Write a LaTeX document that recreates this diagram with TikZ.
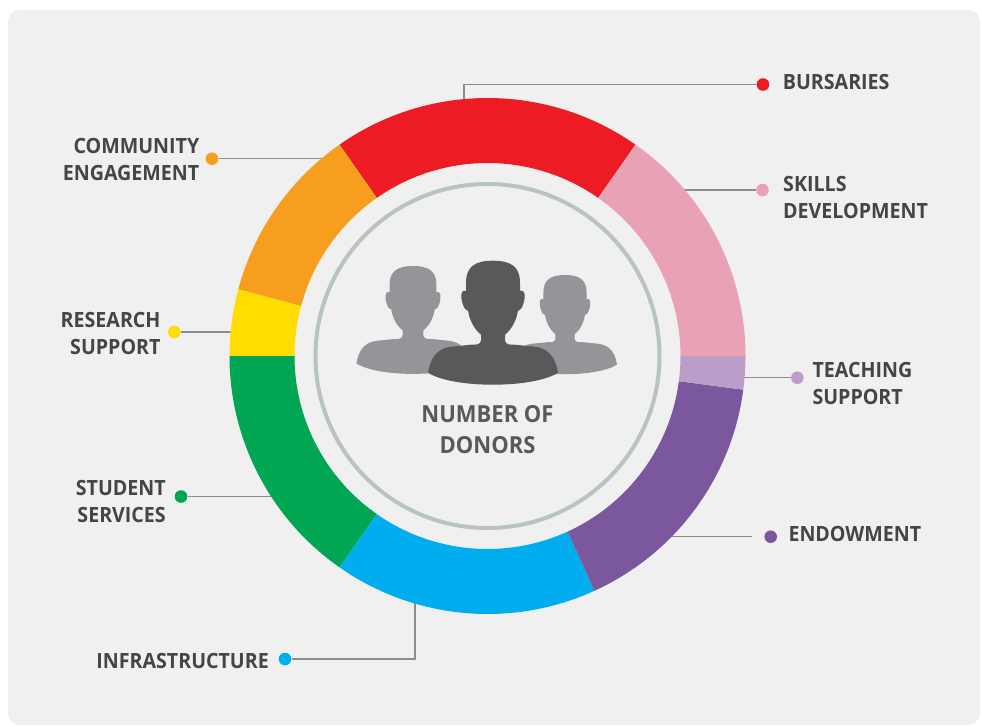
\documentclass[tikz,border=0pt]{standalone}
\usepackage{fontspec}
\setmainfont{Open Sans}[FakeStretch=0.935]
\definecolor{bg}{HTML}{F0F0F0}
\definecolor{cred}{HTML}{ED1C24}
\definecolor{cpink}{HTML}{E9A1B6}
\definecolor{clilac}{HTML}{BC9CC9}
\definecolor{cpurple}{HTML}{7B589E}
\definecolor{cblue}{HTML}{00AEEF}
\definecolor{cgreen}{HTML}{00A651}
\definecolor{cyellow}{HTML}{FFDD00}
\definecolor{corange}{HTML}{F89E1E}
\definecolor{ringg}{HTML}{B9C3C5}
\definecolor{lineg}{HTML}{8C8C8E}
\definecolor{txt}{HTML}{454547}
\definecolor{txtc}{HTML}{58595B}
\definecolor{plight}{HTML}{939598}
\definecolor{pdark}{HTML}{58595B}
\newcommand\ringseg[3]{\fill[#3] (#1:258) arc[start angle=#1,end angle=#2,radius=258] -- (#2:193) arc[start angle=#2,end angle=#1,radius=193] -- cycle;}
\newcommand\personshape{(0,0) .. controls (18,0) and (27,6) .. (27,22) -- (27,30)
 .. controls (32,28) and (33,36) .. (30,44) .. controls (29,48) and (26,50) .. (25,50)
 .. controls (23,62) and (17,70) .. (12,74) -- (12,80)
 .. controls (13,84) and (16,84) .. (22,84) -- (42,86)
 .. controls (58,88) and (63,100) .. (65,112)
 .. controls (40,128) and (-40,128) .. (-65,112)
 .. controls (-63,100) and (-58,88) .. (-42,86) -- (-22,84)
 .. controls (-16,84) and (-13,84) .. (-12,80) -- (-12,74)
 .. controls (-17,70) and (-23,62) .. (-25,50)
 .. controls (-26,50) and (-29,48) .. (-30,44)
 .. controls (-33,36) and (-32,28) .. (-27,30) -- (-27,22)
 .. controls (-27,6) and (-18,0) .. (0,0) -- cycle}
\begin{document}
\begin{tikzpicture}[x=1pt,y=-1pt,
  lbl/.style={font=\fontsize{21}{27}\selectfont\bfseries, text=txt, inner sep=0pt},
  dot/.style={circle, fill=#1, minimum size=12.6pt, inner sep=0pt},
  conn/.style={draw=lineg, line width=1.4pt},
]
\useasboundingbox (0,0) rectangle (982,726);
\fill[white] (0,0) rectangle (982,726);
\fill[bg, rounded corners=12pt] (8,10) rectangle (980,725);

% connectors and dots
\coordinate (rB) at (464,99); \coordinate (kB) at (464,84.5);
\node[dot=cred] (dB) at (763,84.5) {};
\draw[conn] (rB) -- (kB) -- (dB);
\coordinate (rS) at (684,190);
\node[dot=cpink] (dS) at (762.5,190) {};
\draw[conn] (rS) -- (dS);
\coordinate (rT) at (744,377.7);
\node[dot=clilac] (dT) at (797.3,377.7) {};
\draw[conn] (rT) -- (dT);
\coordinate (rE) at (670,536.7);
\node[dot=cpurple] (dE) at (770.7,536.7) {};
\draw[conn, shorten >=12pt] (rE) -- (dE);
\coordinate (rI) at (415,603); \coordinate (kI) at (415,659);
\node[dot=cblue] (dI) at (285,659) {};
\draw[conn] (rI) -- (kI) -- (dI);
\coordinate (rSt) at (271.5,496.5);
\node[dot=cgreen] (dSt) at (181,496.5) {};
\draw[conn] (rSt) -- (dSt);
\coordinate (rR) at (231.5,332);
\node[dot=cyellow] (dR) at (174.3,332) {};
\draw[conn] (rR) -- (dR);
\coordinate (rC) at (323,158.7);
\node[dot=corange] (dC) at (212,158.7) {};
\draw[conn] (rC) -- (dC);

% ring
\begin{scope}[shift={(487.5,356)}]
\ringseg{-55}{-125}{cred}
\ringseg{-125}{-165}{corange}
\ringseg{-165}{-180}{cyellow}
\ringseg{-180}{-235}{cgreen}
\ringseg{-235}{-294.5}{cblue}
\ringseg{-294.5}{-352.5}{cpurple}
\ringseg{-352.5}{-360}{clilac}
\ringseg{0}{-55}{cpink}
\draw[ringg, line width=4pt] (0,0) circle[radius=172];
\end{scope}

% people
\fill[plight, shift={(413,266)}, scale=0.87] \personshape;
\fill[plight, shift={(565,275)}, scale=0.8] \personshape;
\fill[pdark, shift={(493,260.7)}, scale=1] \personshape;

% labels (base anchor = baseline of the last line)
\node[lbl, anchor=base west, align=left] (tB) at (782.7,89.3) {BURSARIES};
\node[lbl, anchor=base west, align=left] (tS) at (783,218.3) {SKILLS\\DEVELOPMENT};
\node[lbl, anchor=base west, align=left] (tT) at (812.3,404) {TEACHING\\SUPPORT};
\node[lbl, anchor=base west, align=left] (tE) at (788.3,541.7) {ENDOWMENT};
\node[lbl, anchor=base east, align=right] (tI) at (269,668.3) {INFRASTRUCTURE};
\node[lbl, anchor=base east, align=right] (tSt) at (166,522.3) {STUDENT\\SERVICES};
\node[lbl, anchor=base east, align=right] (tR) at (160.7,354.3) {RESEARCH\\SUPPORT};
\node[lbl, anchor=base east, align=right] (tC) at (199.5,180) {COMMUNITY\\ENGAGEMENT};
\node[font=\fontsize{23.5}{30.6}\selectfont\bfseries, text=txtc, inner sep=0pt, align=center, anchor=base] (ctr) at (487.5,453.3) {NUMBER OF\\DONORS};
\end{tikzpicture}
\end{document}
